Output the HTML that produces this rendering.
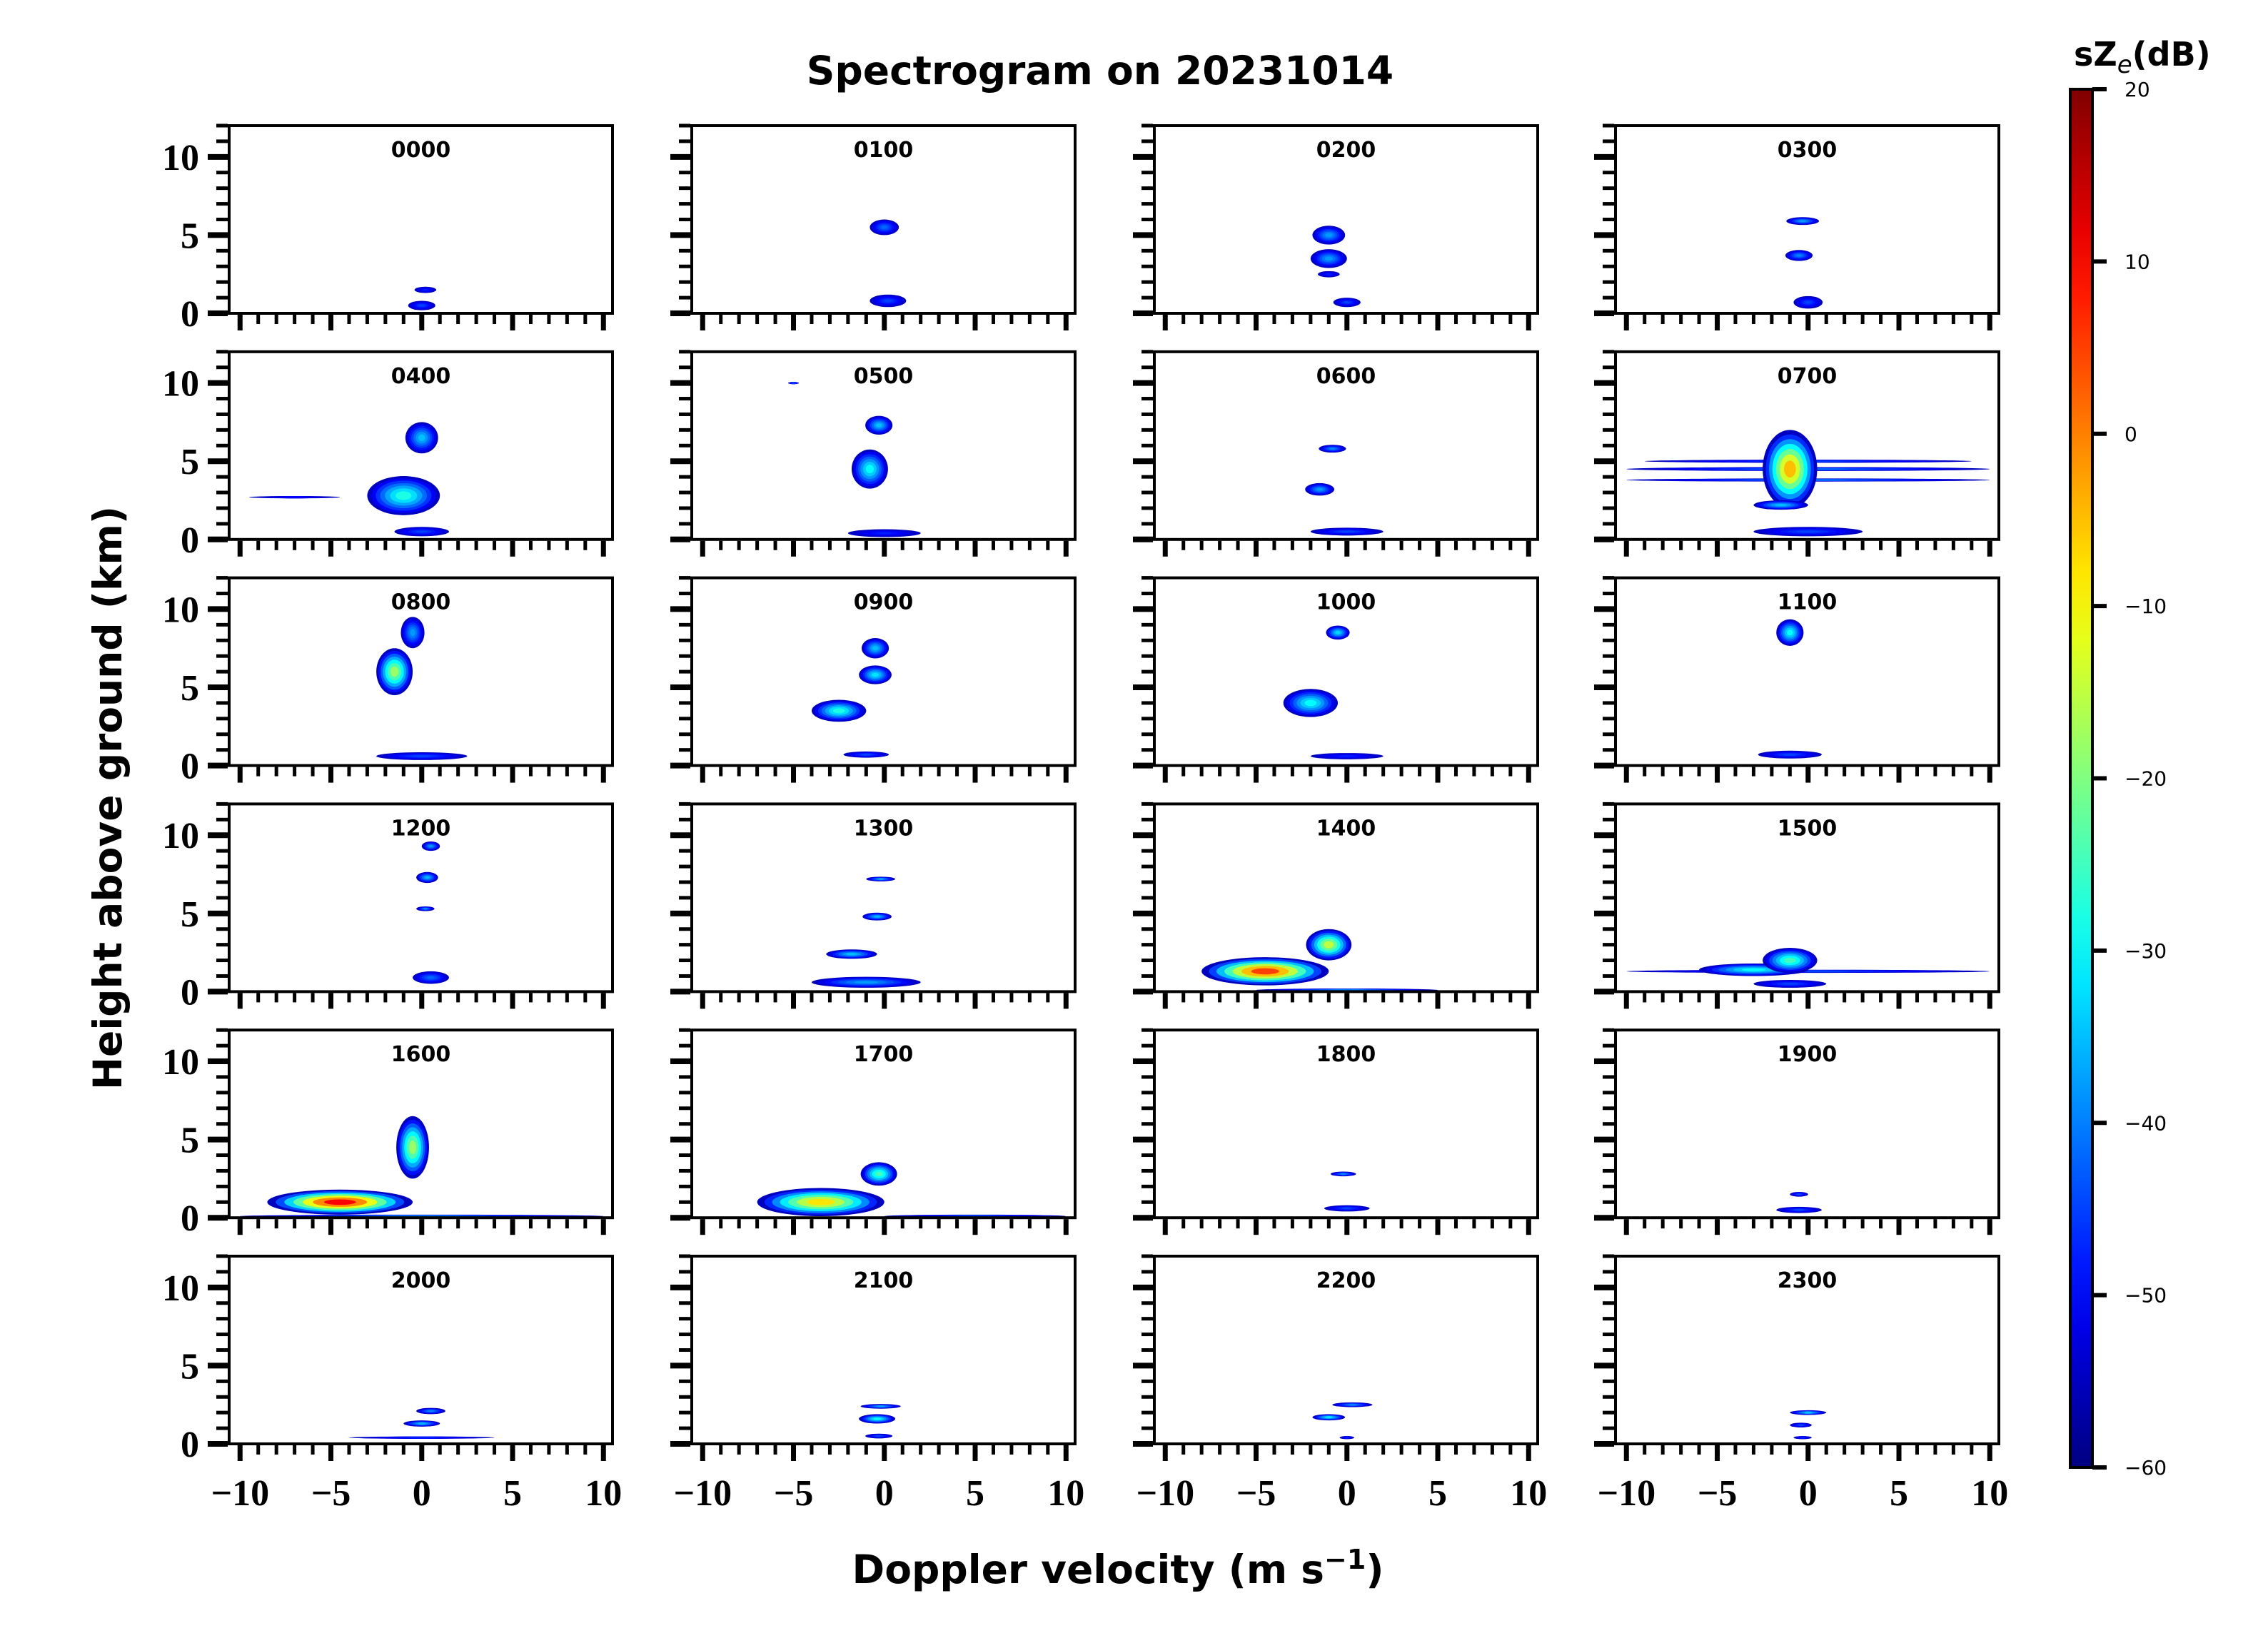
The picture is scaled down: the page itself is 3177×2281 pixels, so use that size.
<!DOCTYPE html>
<html><head><meta charset="utf-8">
<style>
html,body{margin:0;padding:0;background:#fff;}
svg{display:block;}
</style></head>
<body>
<svg id="fig" width="3177" height="2281" xmlns="http://www.w3.org/2000/svg">
<rect width="3177" height="2281" fill="#fff"/>
<text x="1541" y="118" text-anchor="middle" font-family="DejaVu Sans, sans-serif" font-weight="bold" font-size="55">Spectrogram on 20231014</text>
<text x="0" y="0" transform="translate(170,1118) rotate(-90)" text-anchor="middle" font-family="DejaVu Sans, sans-serif" font-weight="bold" font-size="55">Height above ground (km)</text>
<text x="1566" y="2218" text-anchor="middle" font-family="DejaVu Sans, sans-serif" font-weight="bold" font-size="55">Doppler velocity (m s<tspan dy="-20" font-size="38">−1</tspan><tspan dy="20">)</tspan></text>
<g id="panels"></g>
<g id="cbar"></g>
</svg>
<script>
// ---- data ----
const panelTimes = ["0000","0100","0200","0300","0400","0500","0600","0700","0800","0900","1000","1100","1200","1300","1400","1500","1600","1700","1800","1900","2000","2100","2200","2300"];
const xTicks = [-10,-5,0,5,10];
const yTicks = [0,5,10];
const cbarTicks = [20,10,0,-10,-20,-30,-40,-50,-60];
// each blob: [velocity centre, height centre, velocity width, height thickness, peak dB]
const blobs = [
 [[0.2,1.5,1.2,0.4,-48],[0,0.5,1.5,0.6,-45]],
 [[0,5.5,1.6,1.0,-42],[0.2,0.8,2,0.8,-45]],
 [[-1,5,1.8,1.2,-38],[-1,3.5,2,1.2,-38],[-1,2.5,1.2,0.4,-48],[0,0.7,1.5,0.6,-45]],
 [[-0.3,5.9,1.8,0.5,-38],[-0.5,3.7,1.5,0.7,-40],[0,0.7,1.6,0.8,-45]],
 [[0,6.5,1.8,2,-35],[-1,2.8,4,2.5,-28],[-7,2.7,5,0.15,-50],[0,0.5,3,0.6,-45]],
 [[-0.3,7.3,1.5,1.2,-35],[-0.8,4.5,2,2.5,-30],[0,0.4,4,0.5,-48],[-5,10,0.6,0.1,-45]],
 [[-0.8,5.8,1.5,0.5,-40],[-1.5,3.2,1.6,0.8,-38],[0,0.5,4,0.5,-45]],
 [[0,4.5,20,0.25,-42],[0,3.8,20,0.2,-42],[0,5,18,0.2,-46],[-1,4.5,3,5,-5],[-1.5,2.2,3,0.6,-35],[0,0.5,6,0.6,-45]],
 [[-1.5,6,2,3,-18],[-0.5,8.5,1.3,2,-38],[0,0.6,5,0.5,-45]],
 [[-0.5,7.5,1.5,1.3,-35],[-0.5,5.8,1.8,1.2,-32],[-2.5,3.5,3,1.4,-28],[-1,0.7,2.5,0.4,-45]],
 [[-0.5,8.5,1.3,0.9,-33],[-2,4,3,1.8,-30],[0,0.6,4,0.4,-48]],
 [[-1,8.5,1.5,1.7,-30],[-1,0.7,3.5,0.5,-45]],
 [[0.5,9.3,1,0.6,-38],[0.3,7.3,1.2,0.7,-36],[0.2,5.3,1,0.3,-40],[0.5,0.9,2,0.8,-42]],
 [[-0.2,7.2,1.6,0.3,-38],[-0.4,4.8,1.6,0.5,-36],[-1.8,2.4,2.8,0.6,-35],[-1,0.6,6,0.7,-38]],
 [[0,0.1,10,0.2,-40],[-4.5,1.3,7,1.8,5],[-1,3,2.5,2,-15]],
 [[0,1.3,20,0.2,-45],[-3,1.4,6,0.8,-30],[-1,2,3,1.6,-25],[-1,0.5,4,0.5,-45]],
 [[0,0.1,20,0.2,-40],[-0.5,4.5,1.8,4,-18],[-4.5,1,8,1.6,10]],
 [[5,0.1,10,0.2,-45],[-0.3,2.8,2,1.5,-25],[-3.5,1,7,1.8,-8]],
 [[-0.2,2.8,1.4,0.3,-40],[0,0.6,2.5,0.4,-45]],
 [[-0.5,1.5,1,0.3,-45],[-0.5,0.5,2.5,0.4,-45]],
 [[0.5,2.1,1.6,0.4,-40],[0,1.3,2,0.4,-36],[0,0.4,8,0.15,-48]],
 [[-0.2,2.4,2.2,0.3,-38],[-0.4,1.6,2,0.6,-30],[-0.3,0.5,1.5,0.3,-45]],
 [[0.3,2.5,2.2,0.3,-40],[-1,1.7,1.8,0.4,-32],[0,0.4,0.8,0.2,-48]],
 [[0,2,2,0.3,-35],[-0.4,1.2,1.2,0.3,-45],[-0.3,0.4,1,0.2,-48]]
];
// ---- layout ----
const NS="http://www.w3.org/2000/svg";
const colLeft=[321,969,1617,2263], pw=537, ph=263, top0=176, pitch=316.8;
const xmin=-10.6,xmax=10.5,ymin=0,ymax=12, zmin=-60,zmax=20;
function jet(t){t=Math.max(0,Math.min(1,t));
 const r=Math.max(0,Math.min(1,1.5-Math.abs(4*t-3))),g=Math.max(0,Math.min(1,1.5-Math.abs(4*t-2))),b=Math.max(0,Math.min(1,1.5-Math.abs(4*t-1)));
 return `rgb(${Math.round(r*255)},${Math.round(g*255)},${Math.round(b*255)})`;}
function mk(tag,attrs,parent){const e=document.createElementNS(NS,tag);for(const k in attrs)e.setAttribute(k,attrs[k]);parent.appendChild(e);return e;}
const G=document.getElementById('panels');
panelTimes.forEach((t,i)=>{
 const c=i%4,r=Math.floor(i/4);
 const L=colLeft[c],T=top0+r*pitch;
 const sx=v=>L+(v-xmin)/(xmax-xmin)*pw;
 const sy=h=>T+ph-(h-ymin)/(ymax-ymin)*ph;
 const g=mk('g',{},G);
 
 
 const cid='clip'+i;
 const cp=mk('clipPath',{id:cid},g);mk('rect',{x:L,y:T,width:pw,height:ph},cp);
 const dg=mk('g',{'clip-path':`url(#${cid})`},g);
 blobs[i].forEach((b,j)=>{
  const [v,h,dv,dh,pk]=b;
  const n=7;
  for(let k=0;k<n;k++){
   const f=k/(n-1);
   const lvl=-55+(pk+55)*f;
   const s=Math.pow(1-f*0.85,0.8);
   const e=mk('ellipse',{cx:sx(v),cy:sy(h),rx:Math.max(1.5,dv/2*pw/(xmax-xmin)*s),ry:Math.max(1.5,dh/2*ph/(ymax-ymin)*s),fill:jet((lvl-zmin)/(zmax-zmin))},dg);
   
   
  }
 });
 const fr=mk('rect',{x:L,y:T,width:pw,height:ph,fill:'none',stroke:'#000','stroke-width':4},g);
 
 
 const lb=mk('text',{x:L+pw/2,y:T+44,'text-anchor':'middle','font-family':'DejaVu Sans, sans-serif','font-weight':'bold','font-size':30},g);
 lb.textContent=t;
 
 
 for(let v=-10;v<=10;v++){const maj=v%5===0;
  mk('line',{x1:sx(v),x2:sx(v),y1:T+ph+2,y2:T+ph+(maj?24:15),stroke:'#000','stroke-width':maj?7:5},g);}
 for(let h=0;h<=12;h++){const maj=h%5===0;
  mk('line',{x1:L-2,x2:L-(maj?30:18),y1:sy(h),y2:sy(h),stroke:'#000','stroke-width':maj?8:5},g);}
 if(r===5) xTicks.forEach(v=>{const tx=mk('text',{x:sx(v),y:T+ph+86,'text-anchor':'middle','font-family':'Liberation Serif, serif','font-weight':'bold','font-size':52},g);tx.textContent=(v<0?'−':'')+Math.abs(v);
  
  });
 if(c===0) yTicks.forEach(h=>{const tx=mk('text',{x:L-42,y:sy(h)+18,'text-anchor':'end','font-family':'Liberation Serif, serif','font-weight':'bold','font-size':52},g);tx.textContent=h;
  
  });
});
// colorbar
const CB=document.getElementById('cbar');


const cx=2900,cw=31,ct=125,cb=2056;
const defs=mk('defs',{},CB);const lg=mk('linearGradient',{id:'jetg',x1:0,y1:1,x2:0,y2:0},defs);
for(let k=0;k<=20;k++)mk('stop',{offset:k/20,'stop-color':jet(k/20)},lg);
mk('rect',{x:cx,y:ct,width:cw,height:cb-ct,fill:'url(#jetg)',stroke:'#000','stroke-width':4},CB);
cbarTicks.forEach(z=>{const y=cb-(z-zmin)/(zmax-zmin)*(cb-ct);
 mk('line',{x1:cx+cw,x2:cx+cw+20,y1:y,y2:y,stroke:'#000','stroke-width':6},CB);
 const tx=mk('text',{x:cx+cw+45,y:y+10,'font-family':'DejaVu Sans, sans-serif','font-size':28},CB);tx.textContent=(z<0?'−':'')+Math.abs(z);
 
 });
const ttl=mk('text',{x:2905,y:92,'font-family':'DejaVu Sans, sans-serif','font-weight':'bold','font-size':46},CB);
ttl.innerHTML='sZ<tspan dy="10" font-size="34" font-weight="normal" font-style="italic">e</tspan><tspan dy="-10">(dB)</tspan>';


</script>
</body></html>
